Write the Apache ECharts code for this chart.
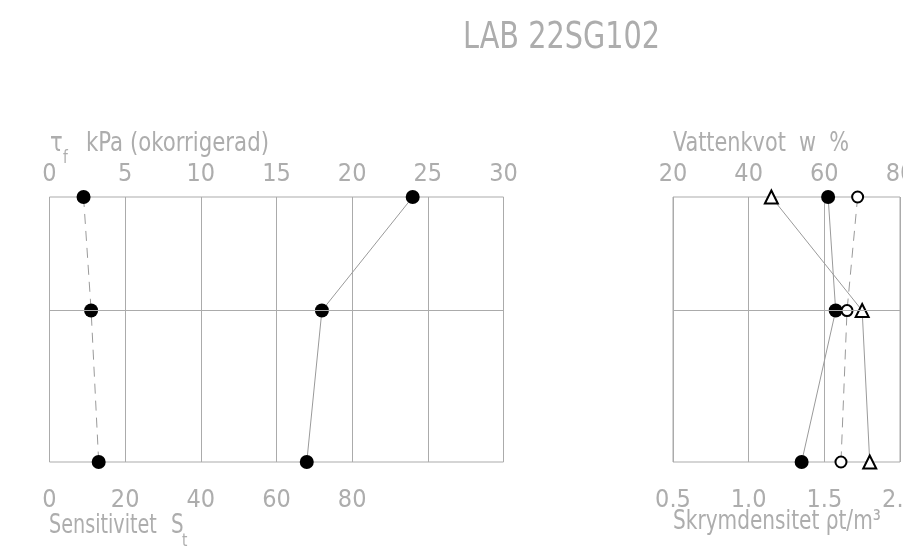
<!DOCTYPE html>
<html>
<head>
<meta charset="utf-8">
<script src="https://cdn.jsdelivr.net/npm/echarts@6/dist/echarts.min.js"></script>
<style>
  html, body { margin: 0; padding: 0; background: #fff; }
  #main { width: 903px; height: 560px; }
</style>
</head>
<body>
<div id="main"></div>
<script>
// depth of each sample row (hidden axis, top to bottom)
const depth = [3, 6, 10];

// left plot
const shearStrength = [24, 18, 17]; // tau_f kPa (okorrigerad)
const sensitivity = [9, 11, 13]; // S_t

// right plot
const waterContent = [61, 63, 54]; // w %
const liquidLimit = [46, 70, 72]; // w_L %
const density = [1.72, 1.65, 1.61]; // rho t/m3

// tick labels
const kpaTicks = [0, 5, 10, 15, 20, 25, 30];
const stTicks = [0, 20, 40, 60, 80];
const wTicks = [20, 40, 60, 80];
const rhoTicks = [0.5, 1.0, 1.5, 2.0];

const FONT = "'DejaVu Sans Condensed', sans-serif";
const TXT = "#adadad";
const GRID = "#ababab";
const LINE = "#9a9a9a";

function pairs(xs) {
  return xs.map((x, i) => [x, depth[i]]);
}

function xAxisBase(gridIndex, position, ticks, step, max, showSplit, labelFn) {
  return {
    type: "value",
    gridIndex: gridIndex,
    position: position,
    min: ticks[0],
    max: max,
    interval: step,
    axisLine: { show: false },
    axisTick: { show: false },
    splitLine: { show: showSplit, lineStyle: { color: GRID, width: 1 } },
    axisLabel: {
      color: TXT,
      fontFamily: FONT,
      fontSize: 25,
      margin: position === "top" ? 10 : 26,
      formatter: labelFn,
    },
  };
}

const midLine = {
  silent: true,
  symbol: ["none", "none"],
  label: { show: false },
  lineStyle: { color: GRID, type: "solid", width: 1 },
  data: [{ yAxis: depth[1] }],
};

function lineSeries(xi, yi, xs, symbol, size, dashed, extra) {
  const s = {
    type: "line",
    xAxisIndex: xi,
    yAxisIndex: yi,
    data: pairs(xs),
    symbol: symbol,
    symbolSize: size,
    showAllSymbol: true,
    lineStyle: { color: LINE, width: 1, type: dashed ? [10, 7] : "solid" },
    itemStyle: symbol.indexOf("empty") === 0
      ? { color: "#000", borderColor: "#000", borderWidth: 2 }
      : { color: "#000" },
    animation: false,
  };
  return Object.assign(s, extra || {});
}

// plain text label helper (squeezed to match the narrow drafting font)
function label(text, x, y, size, sx) {
  return {
    type: "text",
    x: x,
    y: y,
    scaleX: sx,
    style: { text: text, font: size + "px " + FONT, fill: TXT, textVerticalAlign: "bottom" },
  };
}

const options = {
  animation: false,
  grid: [
    { left: 49.5, top: 197, width: 454, height: 265, show: true, borderColor: GRID, borderWidth: 1, outerBoundsMode: "none" },
    { left: 673, top: 197, width: 227, height: 265, show: true, borderColor: GRID, borderWidth: 1, outerBoundsMode: "none" },
  ],
  xAxis: [
    xAxisBase(0, "top", kpaTicks, 5, 30, true, (v) => (kpaTicks.includes(v) ? String(v) : "")),
    xAxisBase(0, "bottom", stTicks, 20, 120, false, (v) => (stTicks.includes(v) ? String(v) : "")),
    xAxisBase(1, "top", wTicks, 20, 80, true, (v) => String(v)),
    xAxisBase(1, "bottom", rhoTicks, 0.5, 2.0, false, (v) => v.toFixed(1)),
  ],
  yAxis: [
    { type: "value", gridIndex: 0, min: 3, max: 10, inverse: true, show: false },
    { type: "value", gridIndex: 1, min: 3, max: 10, inverse: true, show: false },
  ],
  graphic: [
    label("LAB 22SG102", 463, 57, 38, 0.84),
    // top-left axis name
    label("τ", 50, 157, 26, 0.9),
    label("f", 63, 167, 17, 0.9),
    label("kPa (okorrigerad)", 86, 157, 26, 0.91),
    // bottom-left axis name
    label("Sensitivitet", 49, 539, 26, 0.82),
    label("S", 171, 539, 26, 0.85),
    label("t", 182, 550, 17, 0.9),
    // right axis names
    label("Vattenkvot  w  %", 673, 157, 26, 0.89),
    label("Skrymdensitet ρt/m³", 673, 535, 26, 0.86),
  ],
  series: [
    lineSeries(0, 0, shearStrength, "circle", 14, false, { markLine: midLine }),
    lineSeries(1, 0, sensitivity, "circle", 14, true),
    lineSeries(2, 1, waterContent, "circle", 14, false, { markLine: midLine }),
    lineSeries(2, 1, liquidLimit, "emptyTriangle", 13, false),
    lineSeries(3, 1, density, "emptyCircle", 11, true),
  ],
};

let myChart = echarts.init(document.getElementById("main"));
myChart.setOption(options);
</script>
</body>
</html>
